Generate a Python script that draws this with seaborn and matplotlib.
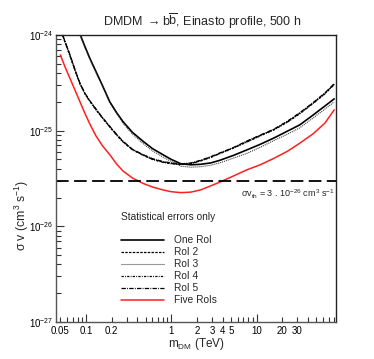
import matplotlib
matplotlib.use("Agg")
import matplotlib.pyplot as plt
import seaborn as sns
from matplotlib.ticker import FixedLocator, FixedFormatter, NullFormatter, FuncFormatter

# ---------------- data ----------------
mass_tev = [0.05, 0.057, 0.065, 0.075, 0.085, 0.097, 0.11, 0.13, 0.155, 0.19, 0.23, 0.27, 0.35, 0.47,
            0.6, 0.8, 1.0, 1.3, 1.7, 2.2, 2.9, 3.7, 5.3, 7.7, 11, 16, 23, 32, 46, 63, 81]
one_roi = [3.3e-24, 2.44e-24, 1.8e-24, 1.33e-24, 1.02e-24, 7.6e-25, 5.8e-25, 4.2e-25, 3.0e-25, 2.0e-25,
           1.53e-25, 1.25e-25, 9.6e-26, 7.7e-26, 6.5e-26, 5.6e-26, 5.0e-26, 4.5e-26, 4.4e-26, 4.45e-26,
           4.6e-26, 4.9e-26, 5.5e-26, 6.3e-26, 7.2e-26, 8.4e-26, 9.9e-26, 1.15e-25, 1.46e-25, 1.81e-25, 2.15e-25]
roi_2 = [1.15e-24, 8.4e-25, 6.1e-25, 4.2e-25, 3.1e-25, 2.45e-25, 2.06e-25, 1.68e-25, 1.37e-25, 1.1e-25,
         9.0e-26, 7.7e-26, 6.35e-26, 5.55e-26, 5.05e-26, 4.7e-26, 4.55e-26, 4.45e-26, 4.55e-26, 4.85e-26,
         5.3e-26, 5.8e-26, 6.6e-26, 7.7e-26, 8.9e-26, 1.03e-25, 1.24e-25, 1.52e-25, 1.95e-25, 2.45e-25, 3.07e-25]
roi_3 = [3.2e-24, 2.37e-24, 1.75e-24, 1.3e-24, 1.0e-24, 7.4e-25, 5.7e-25, 4.1e-25, 2.95e-25, 1.95e-25,
         1.5e-25, 1.2e-25, 9.2e-26, 7.3e-26, 6.15e-26, 5.3e-26, 4.75e-26, 4.25e-26, 4.15e-26, 4.2e-26,
         4.35e-26, 4.6e-26, 5.15e-26, 5.8e-26, 6.7e-26, 7.9e-26, 9.2e-26, 1.07e-25, 1.36e-25, 1.68e-25, 2.0e-25]
roi_4 = [1.14e-24, 8.3e-25, 6.0e-25, 4.15e-25, 3.07e-25, 2.43e-25, 2.04e-25, 1.66e-25, 1.36e-25, 1.09e-25,
         8.9e-26, 7.65e-26, 6.3e-26, 5.5e-26, 5.0e-26, 4.65e-26, 4.5e-26, 4.42e-26, 4.52e-26, 4.82e-26,
         5.25e-26, 5.75e-26, 6.55e-26, 7.6e-26, 8.8e-26, 1.02e-25, 1.23e-25, 1.5e-25, 1.93e-25, 2.42e-25, 3.03e-25]
roi_5 = [1.16e-24, 8.5e-25, 6.2e-25, 4.25e-25, 3.13e-25, 2.47e-25, 2.08e-25, 1.7e-25, 1.38e-25, 1.11e-25,
         9.1e-26, 7.8e-26, 6.4e-26, 5.6e-26, 5.1e-26, 4.75e-26, 4.6e-26, 4.5e-26, 4.6e-26, 4.9e-26,
         5.35e-26, 5.85e-26, 6.65e-26, 7.8e-26, 9.0e-26, 1.04e-25, 1.26e-25, 1.54e-25, 1.97e-25, 2.48e-25, 3.1e-25]
five_rois = [6.2e-25, 4.6e-25, 3.5e-25, 2.6e-25, 2.0e-25, 1.52e-25, 1.19e-25, 8.9e-26, 7.0e-26, 5.6e-26,
             4.45e-26, 3.8e-26, 3.2e-26, 2.8e-26, 2.58e-26, 2.4e-26, 2.3e-26, 2.25e-26, 2.28e-26, 2.4e-26,
             2.65e-26, 2.9e-26, 3.35e-26, 3.9e-26, 4.4e-26, 5.15e-26, 6.1e-26, 7.4e-26, 9.3e-26, 1.2e-25, 1.65e-25]
sigma_v_th = 3e-26

series_names = ["One RoI", "RoI 2", "RoI 3", "RoI 4", "RoI 5", "Five RoIs"]
series_values = [one_roi, roi_2, roi_3, roi_4, roi_5, five_rois]

x_major = [0.1, 1, 10]
x_minor = [0.05, 0.06, 0.07, 0.08, 0.09, 0.2, 0.3, 0.4, 0.5, 0.6, 0.7, 0.8, 0.9,
           2, 3, 4, 5, 6, 7, 8, 9, 20, 30, 40, 50, 60, 70, 80]
x_labeled_minor = {0.05: "0.05", 0.2: "0.2", 2: "2", 3: "3", 4: "4", 5: "5", 20: "20", 30: "30"}
x_major_labels = ["0.1", "1", "10"]
y_decades = [1e-27, 1e-26, 1e-25, 1e-24]
y_tick_labels = [r"$10^{-27}$", r"$10^{-26}$", r"$10^{-25}$", r"$10^{-24}$"]
y_minor = [m * d for d in [1e-27, 1e-26, 1e-25] for m in range(2, 10)]

# ---------------- style ----------------
sns.set_style("white")
plt.rcParams["font.family"] = ["Liberation Sans", "DejaVu Sans"]
plt.rcParams["mathtext.fontset"] = "custom"
plt.rcParams["mathtext.rm"] = "Liberation Sans"
plt.rcParams["mathtext.it"] = "Liberation Sans:italic"
plt.rcParams["mathtext.sf"] = "Liberation Sans"

styles = {
    "One RoI": dict(color="black", linewidth=1.2, linestyle="-"),
    "RoI 2": dict(color="black", linewidth=0.9, linestyle=(0, (2.0, 1.0))),
    "RoI 3": dict(color="#333333", linewidth=0.8, linestyle=(0, (0.9, 0.9))),
    "RoI 4": dict(color="black", linewidth=0.9, linestyle=(0, (1.8, 1.0, 0.7, 1.0))),
    "RoI 5": dict(color="black", linewidth=0.9, linestyle=(0, (3.5, 1.0, 0.7, 1.0))),
    "Five RoIs": dict(color="#ff1f1f", linewidth=1.1, linestyle="-"),
}

fig = plt.figure(figsize=(3.74, 3.59), dpi=100)
ax = fig.add_axes([56 / 374, 37 / 359, 280 / 374, 287 / 359])

for name, vals in zip(series_names, series_values):
    sns.lineplot(x=mass_tev, y=vals, ax=ax, label=name, estimator=None, sort=False, **styles[name])

ax.axhline(sigma_v_th, color="black", linewidth=1.3, linestyle=(0, (7, 3)))

ax.set_xscale("log")
ax.set_yscale("log")
ax.set_xlim(0.0445, 85)
ax.set_ylim(1e-27, 1e-24)

ax.xaxis.set_major_locator(FixedLocator(x_major))
ax.xaxis.set_major_formatter(FixedFormatter(x_major_labels))
ax.xaxis.set_minor_locator(FixedLocator(x_minor))
ax.xaxis.set_minor_formatter(FuncFormatter(lambda v, p: next((s for k, s in x_labeled_minor.items() if abs(k - v) / k < 1e-6), "")))
ax.yaxis.set_major_locator(FixedLocator(y_decades))
ax.yaxis.set_major_formatter(FixedFormatter(y_tick_labels))
ax.yaxis.set_minor_locator(FixedLocator(y_minor))
ax.yaxis.set_minor_formatter(NullFormatter())

ax.tick_params(axis="both", which="both", direction="in", colors="#333333", labelcolor="black",
               top=False, right=False, left=True, bottom=True)
ax.tick_params(axis="x", which="major", length=6, width=0.8, labelsize=7, pad=3)
ax.tick_params(axis="x", which="minor", length=3.3, width=0.8, labelsize=7, pad=3)
ax.tick_params(axis="y", which="major", length=6, width=0.8, labelsize=7, pad=2)
ax.tick_params(axis="y", which="minor", length=3.3, width=0.8)

for side in ["left", "bottom"]:
    ax.spines[side].set_color("#555555")
    ax.spines[side].set_linewidth(1.0)
for side in ["top", "right"]:
    ax.spines[side].set_color("#222222")
    ax.spines[side].set_linewidth(1.0)

ax.set_xlabel(r"m$_{\rm DM}$ (TeV)", fontsize=8.5)
ax.xaxis.set_label_coords(0.5, -0.05)
ax.set_ylabel(r"σ v (cm$^{3}$ s$^{-1}$)", fontsize=8.8)
ax.yaxis.set_label_coords(-0.09, 0.37)

fig.text(202 / 374, 1 - 21 / 359, r"DMDM $\rightarrow$b$\overline{\mathrm{b}}$, Einasto profile, 500 h",
         ha="center", va="center", fontsize=9)

ax.text(0.66, 0.445, r"σv$_{\rm th}$ = 3 . 10$^{-26}$ cm$^{3}$ s$^{-1}$", transform=ax.transAxes,
        ha="left", va="center", fontsize=6.5)

ax.text(0.232, 0.366, "Statistical errors only", transform=ax.transAxes, ha="left", va="center", fontsize=7.3)
handles, labels = ax.get_legend_handles_labels()
ax.legend(handles, labels, loc="upper left", bbox_to_anchor=(0.232, 0.302), frameon=False,
          fontsize=7.3, handlelength=4.2, handletextpad=1.0, labelspacing=0.2,
          borderpad=0, borderaxespad=0)

fig.savefig("out.png", dpi=100)
